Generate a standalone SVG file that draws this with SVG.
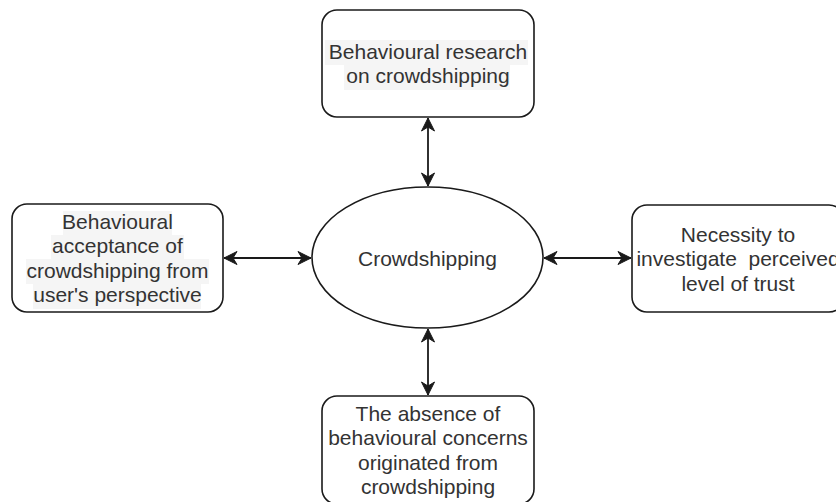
<svg xmlns="http://www.w3.org/2000/svg" width="836" height="502" viewBox="0 0 836 502">
  <defs>
    <style>
      .box { fill: #ffffff; stroke: #1a1a1a; stroke-width: 1.6; }
      .lbl { font-family: "Liberation Sans", Arial, Helvetica, sans-serif; font-size: 21px; fill: #333333; text-anchor: middle; }
      .hl { fill: #f5f5f5; }
      .edge { stroke: #1a1a1a; stroke-width: 1.8; fill: none; marker-start: url(#arrow); marker-end: url(#arrow); }
    </style>
    <marker id="arrow" markerUnits="userSpaceOnUse" viewBox="-14 -8 16 16" markerWidth="16" markerHeight="16" refX="0" refY="0" orient="auto-start-reverse">
      <path d="M0,0 L-13,-6.5 L-9,0 L-13,6.5 Z" fill="#1a1a1a" stroke="#1a1a1a" stroke-width="1" stroke-linejoin="miter"/>
    </marker>
  </defs>
  <rect width="836" height="502" fill="#ffffff"/>

  <!-- connectors -->
  <g id="connectors">
    <line class="edge" x1="428" y1="118" x2="428" y2="186"/>
    <line class="edge" x1="224" y1="258" x2="311" y2="258"/>
    <line class="edge" x1="544" y1="258" x2="631" y2="258"/>
    <line class="edge" x1="428" y1="329" x2="428" y2="395"/>
  </g>

  <!-- centre ellipse -->
  <g id="node-crowdshipping">
    <ellipse class="box" cx="427.5" cy="257.5" rx="115.5" ry="70.5"/>
    <text class="lbl" x="427.5" y="265.5">Crowdshipping</text>
  </g>

  <g id="node-research">
    <rect class="box" x="322" y="10" width="212" height="107" rx="15" ry="15"/>
    <rect class="hl" x="325" y="40" width="203" height="25"/>
    <rect class="hl" x="344" y="65" width="166" height="25"/>
    <text class="lbl" x="428" y="58.5">Behavioural research</text>
    <text class="lbl" x="428" y="83">on crowdshipping</text>
  </g>

  <g id="node-acceptance">
    <rect class="box" x="12" y="204" width="211" height="108" rx="15" ry="15"/>
    <rect class="hl" x="63" y="211" width="109" height="24"/>
    <rect class="hl" x="51" y="235" width="133" height="24"/>
    <rect class="hl" x="26" y="259" width="183" height="25"/>
    <rect class="hl" x="33" y="284" width="168" height="25"/>
    <text class="lbl" x="117.5" y="228.5">Behavioural</text>
    <text class="lbl" x="117.5" y="253">acceptance of</text>
    <text class="lbl" x="117.5" y="277.5">crowdshipping from</text>
    <text class="lbl" x="117.5" y="302">user's perspective</text>
  </g>

  <g id="node-trust">
    <rect class="box" x="632" y="205" width="212" height="107" rx="15" ry="15"/>
    <text class="lbl" x="738" y="241.5">Necessity to</text>
    <text class="lbl" x="738" y="266" xml:space="preserve">investigate  perceived</text>
    <text class="lbl" x="738" y="290.5">level of trust</text>
  </g>

  <g id="node-concerns">
    <rect class="box" x="322" y="396" width="212" height="108" rx="15" ry="15"/>
    <text class="lbl" x="428" y="420.5">The absence of</text>
    <text class="lbl" x="428" y="445">behavioural concerns</text>
    <text class="lbl" x="428" y="469.5">originated from</text>
    <text class="lbl" x="428" y="494">crowdshipping</text>
  </g>
</svg>
